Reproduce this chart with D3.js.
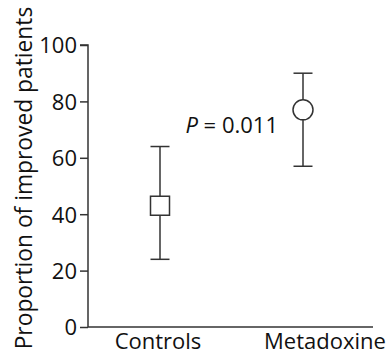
<!DOCTYPE html>
<html>
  <head>
    <script src="https://d3js.org/d3.v7.min.js"></script>
  </head>
  <style>
    body { margin: 0; background: #fff; }
    text { font-family: "Open Sans", sans-serif; fill: #111; }
  </style>
  <body>
    <svg></svg>
    <script>
      // chart data
      const groups = ["Controls", "Metadoxine"];
      const means = [43, 77];
      const lower = [24, 57];
      const upper = [64, 90];
      const shapes = ["square", "circle"];
      const yTicks = [0, 20, 40, 60, 80, 100];

      const width = 392, height = 355;
      const svg = d3.select("svg").attr("width", width).attr("height", height);

      const x0 = 88, x1 = 373;
      const y = d3.scaleLinear().domain([0, 100]).range([327, 45]);
      const x = d3.scalePoint().domain(groups).range([160, 303]);

      const ink = "#333";
      const fs = "22px";

      // y axis
      const yAxis = d3.axisLeft(y).tickValues(yTicks).tickSize(8).tickPadding(3);
      const gy = svg.append("g").attr("transform", `translate(${x0},0)`).call(yAxis);
      gy.select(".domain").attr("stroke", ink).attr("stroke-width", 1.5).attr("d", `M-8,${y(100)}H0V${y(0)}`);
      gy.selectAll(".tick line").attr("stroke", ink).attr("stroke-width", 1.5);
      gy.selectAll(".tick text").style("font-size", fs).attr("fill", "#111").attr("dy", "0.36em");

      // x axis line
      svg.append("line")
        .attr("x1", x0).attr("x2", x1)
        .attr("y1", y(0)).attr("y2", y(0))
        .attr("stroke", ink).attr("stroke-width", 1.5);

      // x labels
      svg.selectAll(".xlab").data(groups).enter().append("text")
        .attr("class", "xlab")
        .attr("x", (d, i) => x(d) + (i === 1 ? 22 : -2))
        .attr("y", 349)
        .attr("text-anchor", "middle")
        .style("font-size", fs)
        .text(d => d);

      // y label
      svg.append("text")
        .attr("transform", `translate(32,${178}) rotate(-90)`)
        .attr("text-anchor", "middle")
        .style("font-size", "22.8px")
        .text("Proportion of improved patients");

      // error bars
      const capW = 9.5;
      groups.forEach((g, i) => {
        const cx = x(g);
        const eg = svg.append("g");
        eg.append("line").attr("x1", cx).attr("x2", cx)
          .attr("y1", y(upper[i])).attr("y2", y(lower[i]))
          .attr("stroke", ink).attr("stroke-width", 1.5);
        [upper[i], lower[i]].forEach(v => {
          eg.append("line").attr("x1", cx - capW).attr("x2", cx + capW)
            .attr("y1", y(v)).attr("y2", y(v))
            .attr("stroke", ink).attr("stroke-width", 1.5);
        });
        if (shapes[i] === "square") {
          eg.append("rect").attr("x", cx - 9.5).attr("y", y(means[i]) - 9.5)
            .attr("width", 19).attr("height", 19)
            .attr("fill", "#fff").attr("stroke", ink).attr("stroke-width", 1.5);
        } else {
          eg.append("circle").attr("cx", cx).attr("cy", y(means[i])).attr("r", 10)
            .attr("fill", "#fff").attr("stroke", ink).attr("stroke-width", 1.5);
        }
      });

      // p-value annotation
      const pt = svg.append("text").attr("x", 278).attr("y", 133)
        .attr("text-anchor", "end").style("font-size", fs);
      pt.append("tspan").style("font-style", "italic").text("P");
      pt.append("tspan").text(" = 0.011");
    </script>
  </body>
</html>
